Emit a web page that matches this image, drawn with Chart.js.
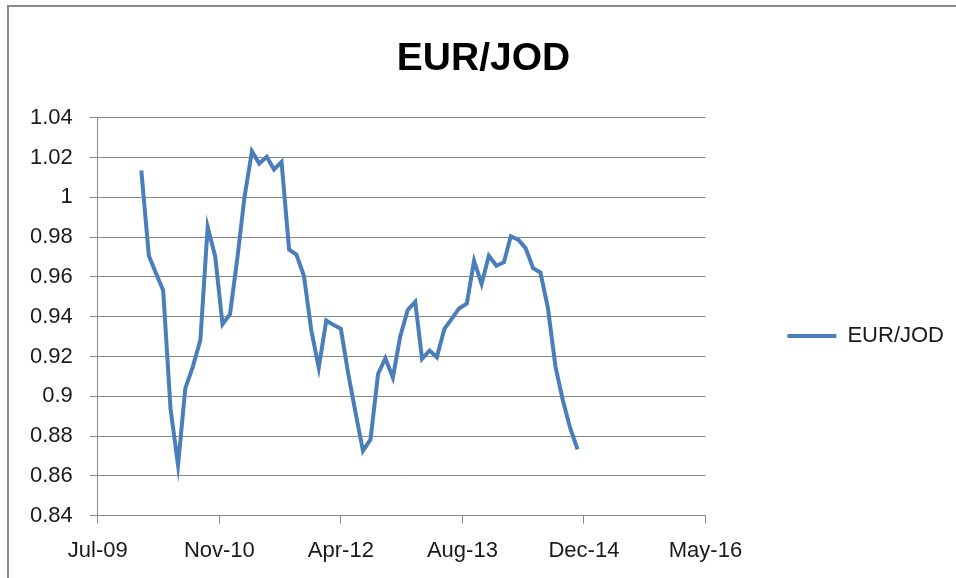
<!DOCTYPE html>
<html>
<head>
<meta charset="utf-8">
<script src="https://cdn.jsdelivr.net/npm/chart.js@4"></script>
<style>
  html, body { margin: 0; padding: 0; background: #fff; overflow: hidden; }
  #frame { position: absolute; left: 7px; top: 5px; width: 1000px; height: 600px; border: 2px solid #898989; }
  #wrap { position: absolute; left: 0; top: 0; width: 956px; height: 578px; }
</style>
</head>
<body>
<div id="frame"></div>
<div id="wrap"><canvas id="myChart"></canvas></div>
<script>
// monthly EUR/JOD, Jan 2010 - Dec 2014
const months = [
  "2010-01","2010-02","2010-03","2010-04","2010-05","2010-06","2010-07","2010-08","2010-09","2010-10","2010-11","2010-12",
  "2011-01","2011-02","2011-03","2011-04","2011-05","2011-06","2011-07","2011-08","2011-09","2011-10","2011-11","2011-12",
  "2012-01","2012-02","2012-03","2012-04","2012-05","2012-06","2012-07","2012-08","2012-09","2012-10","2012-11","2012-12",
  "2013-01","2013-02","2013-03","2013-04","2013-05","2013-06","2013-07","2013-08","2013-09","2013-10","2013-11","2013-12",
  "2014-01","2014-02","2014-03","2014-04","2014-05","2014-06","2014-07","2014-08","2014-09","2014-10","2014-11","2014-12"
];
const rates = [
  1.0135, 0.9706, 0.9622, 0.9532, 0.8939, 0.8654, 0.9040, 0.9149, 0.9283, 0.9851, 0.9703, 0.9362,
  0.9413, 0.9703, 0.9997, 1.0232, 1.0170, 1.0204, 1.0140, 1.0178, 0.9737, 0.9712, 0.9606, 0.9334,
  0.9144, 0.9381, 0.9359, 0.9339, 0.9115, 0.8914, 0.8726, 0.8783, 0.9112, 0.9191, 0.9094, 0.9300,
  0.9434, 0.9475, 0.9188, 0.9230, 0.9196, 0.9339, 0.9389, 0.9443, 0.9465, 0.9681, 0.9565, 0.9706,
  0.9656, 0.9674, 0.9804, 0.9787, 0.9745, 0.9644, 0.9622, 0.9443, 0.9149, 0.8981, 0.8838, 0.8733
];
const xMin = 40000, xMax = 42500, xStep = 500;   // excel date serials (Jul-09 .. May-16)
const yMin = 0.84, yMax = 1.04, yStep = 0.02;

const monNames = ["Jan","Feb","Mar","Apr","May","Jun","Jul","Aug","Sep","Oct","Nov","Dec"];
const EPOCH = Date.UTC(1899, 11, 30);
const toSerial = s => {
  const [y, m] = s.split("-").map(Number);
  return (Date.UTC(y, m - 1, 1) - EPOCH) / 86400000;
};
const fmtSerial = v => {
  const d = new Date(EPOCH + v * 86400000);
  return monNames[d.getUTCMonth()] + "-" + String(d.getUTCFullYear() % 100).padStart(2, "0");
};

const points = months.map((m, i) => ({ x: toSerial(m), y: rates[i] }));
const blue = "#4a7ebb";
const gridGray = "#888888";
const font = "'Liberation Sans', Arial, sans-serif";

new Chart(document.getElementById("myChart"), {
  type: "line",
  data: {
    datasets: [{
      label: "EUR/JOD",
      data: points,
      borderColor: blue,
      backgroundColor: blue,
      borderWidth: 4,
      pointRadius: 0,
      pointHoverRadius: 0,
      tension: 0,
      fill: false
    }]
  },
  options: {
    responsive: true,
    maintainAspectRatio: false,
    animation: false,
    events: [],
    layout: { padding: { left: 13, right: 2, top: 10, bottom: 0 } },
    plugins: {
      title: {
        display: true,
        text: "EUR/JOD",
        color: "#000",
        font: { family: font, size: 39, weight: "bold" },
        padding: { top: 26, bottom: 35 }
      },
      legend: {
        position: "right",
        fullSize: false,
        maxWidth: 300,
        // empty title only pushes the entry down a bit
        title: { display: true, text: "", padding: 0, font: { size: 32 } },
        labels: {
          usePointStyle: true,
          pointStyle: "line",
          pointStyleWidth: 49,
          padding: 82,
          color: "#1a1a1a",
          font: { family: font, size: 22 }
        }
      },
      tooltip: { enabled: false }
    },
    scales: {
      x: {
        type: "linear",
        min: xMin,
        max: xMax,
        border: { display: true, color: gridGray, width: 1 },
        grid: { drawOnChartArea: false, drawTicks: true, tickLength: 8, color: gridGray },
        ticks: {
          stepSize: xStep,
          padding: 14,
          color: "#1a1a1a",
          font: { family: font, size: 22 },
          maxRotation: 0,
          callback: v => fmtSerial(v)
        }
      },
      y: {
        min: yMin,
        max: yMax,
        border: { display: true, color: gridGray, width: 1 },
        grid: { color: gridGray, tickLength: 8, lineWidth: 1 },
        ticks: {
          stepSize: yStep,
          padding: 17,
          color: "#1a1a1a",
          font: { family: font, size: 22 },
          callback: v => String(+v.toFixed(2))
        }
      }
    }
  }
});
</script>
</body>
</html>
